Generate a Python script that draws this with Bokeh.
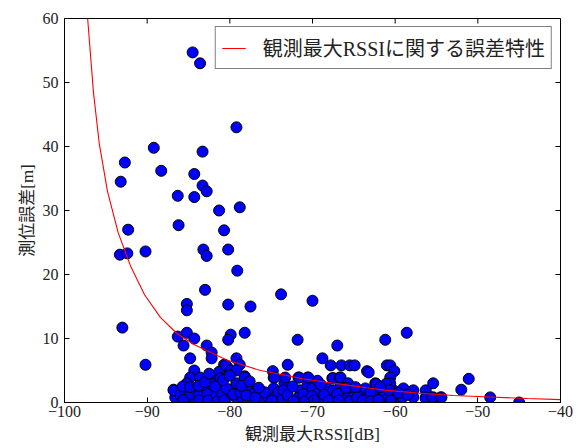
from bokeh.plotting import figure
from bokeh.models import Legend, LegendItem, FixedTicker, Range1d, ColumnDataSource
from bokeh.embed import file_html
from bokeh.resources import INLINE

# ---- data ----
rssi_outliers = [-84.5, -83.6, -79.2, -89.2, -83.3, -92.7, -88.3, -84.3, -93.2, -83.3, -82.8, -86.3, -84.3,
                 -81.3, -78.8, -92.3, -86.2, -80.7, -93.3, -92.4, -90.2, -83.2, -82.8, -80.2, -79.1, -83.0,
                 -85.2, -85.2, -80.2, -77.5, -93.0, -86.3, -85.2, -84.3, -79.9, -80.2, -78.2, -85.6, -82.8,
                 -82.2, -84.8, -82.2, -79.2, -90.2, -80.7, -80.3, -78.8, -84.3, -73.8, -70.0, -71.8, -67.0,
                 -61.2, -58.6, -68.8, -67.8, -66.5, -65.5, -64.9, -63.4, -61.0, -60.6, -60.1, -73.0, -74.8,
                 -51.1, -52.0, -48.5, -45.0]
error_outliers = [54.7, 53.0, 43.0, 39.8, 39.2, 37.5, 36.2, 35.7, 34.5, 33.9, 33.0, 32.3, 32.1,
                  30.0, 30.5, 27.0, 27.7, 26.9, 23.1, 23.3, 23.6, 23.9, 22.9, 23.9, 20.6, 17.6,
                  15.4, 14.4, 15.3, 15.0, 11.7, 10.3, 10.9, 10.0, 10.6, 9.8, 10.9, 8.9, 8.9,
                  7.8, 6.9, 6.9, 6.9, 5.9, 5.9, 5.5, 5.9, 5.0, 16.9, 15.9, 9.8, 8.9,
                  9.8, 10.9, 6.9, 5.8, 5.8, 5.8, 5.8, 4.9, 5.8, 5.8, 4.9, 5.9, 4.9,
                  3.7, 2.0, 0.8, 0.0]

rssi_cluster = [-84.8, -83.6, -81.7, -81.3, -78.2, -79.2, -86.8, -85.2, -86.6,
                -86.8, -85.2, -85.2, -85.2, -84.2, -84.2, -84.2, -83.3, -83.2, -83.1, -82.3, -82.2, -82.0,
                -81.1, -80.9, -80.3, -80.5, -79.9, -79.9, -79.2, -79.1, -79.0, -79.2,
                -78.2, -77.9, -77.1, -78.5, -77.8, -76.3, -75.3, -74.7, -74.7, -74.5, -74.1, -73.6,
                -73.4, -73.5, -73.3, -72.9, -71.7, -71.5, -71.7, -70.6, -70.6, -70.5, -70.0, -69.4, -69.3,
                -68.9, -68.2, -67.6, -67.5, -67.2, -66.6, -66.4,
                -74.6, -71.6, -70.5, -67.5, -66.7,
                -66.6, -65.7, -65.8, -65.1, -64.2, -63.6, -63.4, -62.6, -62.4, -62.2, -61.5, -61.4, -61.2,
                -60.2, -60.0, -59.1, -59.0, -57.8, -57.8, -56.3, -56.3, -55.4, -55.4, -54.5, -60.6, -60.6, -63.2,
                -61.1, -62.3, -60.7, -56.3, -55.5, -54.4,
                -86.0, -85.6, -84.7, -83.7, -83.7, -82.7, -82.6, -81.6, -81.5, -81.0, -80.7, -80.4, -79.6,
                -78.7, -78.0, -76.9, -75.8, -74.9, -73.0, -72.4, -72.3, -71.1, -70.9, -70.1, -69.8, -69.0,
                -68.6, -68.0, -67.0, -66.8, -66.0, -65.5, -64.8, -64.6, -63.9, -63.0, -62.9, -62.0, -61.8,
                -60.5, -59.6, -58.5,
                -85.7, -84.8, -83.8, -83.0, -82.5, -81.8, -80.8, -80.0, -78.6, -77.6, -76.5]
error_cluster = [3.9, 3.9, 4.1, 4.8, 4.1, 2.8, 2.0, 3.0, 0.8,
                 1.9, 1.9, 0.8, 0.0, 1.9, 0.8, 0.0, 1.9, 0.8, 0.0, 3.0, 1.9, 0.8,
                 3.8, 2.7, 0.8, 5.8, 5.0, 1.9, 3.0, 0.8, 0.0, 5.0,
                 3.9, 2.2, 1.4, 0.8, 0.3, 0.3, 0.8, 3.9, 2.2, 0.8, 1.6, 0.6,
                 3.0, 1.9, 3.9, 0.6, 3.9, 1.9, 0.8, 3.9, 2.7, 0.8, 2.2, 3.4, 1.4,
                 0.6, 2.2, 3.8, 1.9, 0.8, 3.0, 1.1,
                 3.9, 3.9, 3.9, 3.8, 3.9,
                 3.9, 3.0, 1.9, 0.8, 1.4, 2.2, 0.8, 0.8, 3.0, 1.9, 0.8, 1.6, 0.3,
                 1.9, 0.8, 0.8, 2.2, 1.9, 0.8, 1.9, 0.8, 3.0, 0.8, 0.8, 3.9, 3.0, 4.7,
                 2.9, 2.9, 1.9, 0.6, 0.8, 0.8,
                 1.2, 0.4, 1.3, 1.2, 0.3, 1.3, 0.3, 1.2, 0.2, 1.6, 0.3, 2.2, 1.3,
                 1.6, 1.1, 0.8, 1.6, 0.3, 1.2, 2.5, 0.2, 1.3, 0.2, 1.0, 0.3, 2.8,
                 1.2, 0.3, 1.3, 0.3, 2.3, 0.2, 2.4, 0.8, 0.3, 1.5, 0.2, 0.4, 2.4,
                 0.3, 1.5, 1.2,
                 2.5, 2.4, 2.6, 3.2, 4.5, 2.5, 3.5, 4.2, 2.6, 3.3, 2.3]

curve_x = [-97.2, -96.5, -95.8, -94.8, -93.5, -92.0, -90.3, -88.4, -86.5, -84.4, -82.3, -80.3,
           -78.5, -76.3, -74.0, -71.2, -68.5, -66.0, -63.5, -61.0, -57.0, -53.0, -48.5, -44.0, -40.0]
curve_y = [60.0, 48.5, 40.5, 33.0, 26.5, 21.3, 16.8, 13.3, 10.9, 9.1, 7.8, 6.6,
           5.9, 5.0, 4.45, 3.7, 3.2, 2.75, 2.3, 1.9, 1.45, 1.1, 0.85, 0.62, 0.45]

x_ticks = [-100, -90, -80, -70, -60, -50, -40]
x_tick_labels = ["\u2212100", "\u221290", "\u221280", "\u221270", "\u221260", "\u221250", "\u221240"]
y_ticks = [0, 10, 20, 30, 40, 50, 60]
y_tick_labels = ["0", "10", "20", "30", "40", "50", "60"]

legend_label = "観測最大RSSIに関する誤差特性"
x_label = "観測最大RSSI[dB]"
y_label = "測位誤差[m]"

LATIN = "Liberation Serif"
MIXED = "Liberation Serif, Noto Sans CJK JP"
TXT = "#222222"

W, H = 585, 448
BL, BR, BT, BB = 64, 25, 18, 46
X0, X1, Y0, Y1 = -100, -40, 0, 60

p = figure(width=W, height=H, x_range=Range1d(X0, X1), y_range=Range1d(Y0, Y1),
           output_backend="svg", toolbar_location=None,
           min_border_left=BL, min_border_right=BR, min_border_top=BT, min_border_bottom=BB)
p.xgrid.visible = False
p.ygrid.visible = False
p.outline_line_color = "black"
p.outline_line_width = 1
p.background_fill_color = "white"
p.border_fill_color = "white"

src = ColumnDataSource(dict(x=rssi_outliers + rssi_cluster, y=error_outliers + error_cluster))
p.scatter("x", "y", source=src, size=11, fill_color="blue", line_color="black", line_width=1)
r_line = p.line(curve_x, curve_y, line_color="red", line_width=1.1)

# inward ticks on the top and right frame edges (5 px long)
TICK = 5
dy = TICK * (Y1 - Y0) / (H - BT - BB)
dx = TICK * (X1 - X0) / (W - BL - BR)
p.segment(x0=x_ticks, y0=[Y1] * len(x_ticks), x1=x_ticks, y1=[Y1 - dy] * len(x_ticks),
          line_color="black", line_width=1)
p.segment(x0=[X1] * len(y_ticks), y0=y_ticks, x1=[X1 - dx] * len(y_ticks), y1=y_ticks,
          line_color="black", line_width=1)

def style_axis(ax, ticks, labels):
    ax.ticker = FixedTicker(ticks=ticks)
    ax.major_label_overrides = {t: l for t, l in zip(ticks, labels)}
    ax.major_tick_in = TICK
    ax.major_tick_out = 0
    ax.minor_tick_in = 0
    ax.minor_tick_out = 0
    ax.axis_line_color = "black"
    ax.major_tick_line_color = "black"
    ax.major_label_text_font = LATIN
    ax.major_label_text_font_size = "16px"
    ax.major_label_text_color = TXT
    ax.axis_label_text_font = MIXED
    ax.axis_label_text_font_style = "normal"
    ax.axis_label_text_font_size = "17px"
    ax.axis_label_text_color = TXT

style_axis(p.xaxis[0], x_ticks, x_tick_labels)
style_axis(p.yaxis[0], y_ticks, y_tick_labels)
p.xaxis[0].axis_label = x_label
p.yaxis[0].axis_label = y_label
p.xaxis[0].major_label_standoff = 3
p.xaxis[0].axis_label_standoff = 5
p.yaxis[0].major_label_standoff = 6
p.yaxis[0].axis_label_standoff = 3

legend = Legend(items=[LegendItem(label=legend_label, renderers=[r_line])], location="top_right")
legend.border_line_color = "black"
legend.border_line_width = 1
legend.background_fill_alpha = 1
legend.label_text_font = MIXED
legend.label_text_font_size = "20px"
legend.label_text_color = TXT
legend.glyph_width = 24
legend.glyph_height = 16
legend.label_height = 16
legend.label_standoff = 17
legend.padding = 6
legend.margin = 8
p.add_layout(legend)

open("out.html", "w").write(file_html(p, INLINE))
